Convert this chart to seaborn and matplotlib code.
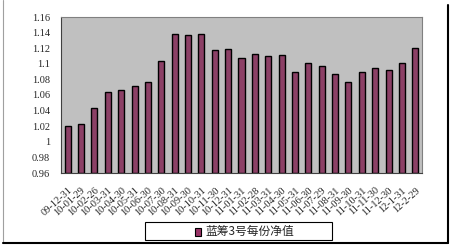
import matplotlib
matplotlib.use("Agg")
import matplotlib.pyplot as plt
from matplotlib.lines import Line2D
from matplotlib.patches import Rectangle
import seaborn as sns
import pandas as pd

dates = ["09-12-31", "10-01-29", "10-02-26", "10-03-31", "10-04-30", "10-05-31",
         "10-06-30", "10-07-30", "10-08-31", "10-09-30", "10-10-31", "10-11-30",
         "10-12-31", "11-01-31", "11-02-28", "11-03-31", "11-04-30", "11-05-31",
         "11-06-30", "11-07-29", "11-08-31", "11-09-30", "11-10-31", "11-11-30",
         "11-12-30", "12-1-31", "12-2-29"]
nav = [1.020, 1.023, 1.043, 1.064, 1.066, 1.072, 1.077, 1.104, 1.138, 1.137,
       1.138, 1.118, 1.119, 1.107, 1.112, 1.110, 1.111, 1.089, 1.101, 1.097,
       1.087, 1.077, 1.090, 1.095, 1.092, 1.101, 1.120]
series_name = "蓝筹3号每份净值"
y_ticks = [0.96, 0.98, 1.00, 1.02, 1.04, 1.06, 1.08, 1.10, 1.12, 1.14, 1.16]
y_tick_labels = ["0.96", "0.98", "1", "1.02", "1.04", "1.06", "1.08", "1.1",
                 "1.12", "1.14", "1.16"]

df = pd.DataFrame({"date": dates, "nav": nav, "series": series_name})

sns.set_theme(style="white")
plt.rcParams["font.family"] = ["Liberation Serif", "Noto Sans CJK SC", "DejaVu Sans"]

fig = plt.figure(figsize=(4.5, 2.45), dpi=100)
ax = fig.add_axes([61 / 450, 1 - 173 / 245, (422 - 61) / 450, (173 - 17) / 245])
ax.set_facecolor("#C0C0C0")

sns.barplot(data=df, x="date", y="nav", hue="series", palette=["#993366"],
            width=0.45, edgecolor="black", linewidth=1.0, ax=ax, legend=False)
for p in ax.patches:
    # bars grow from the bottom of the visible range
    h = p.get_height() + p.get_y() - 0.96
    p.set_y(0.96)
    p.set_height(h)

ax.set_ylim(0.96, 1.16)
ax.set_xlim(-0.5, len(dates) - 0.5)
ax.set_yticks(y_ticks)
ax.set_yticklabels(y_tick_labels, fontsize=7.5)
ax.set_xticks(range(len(dates)))
ax.set_xticklabels(dates, rotation=42, ha="right", rotation_mode="anchor",
                   fontsize=7.5)
ax.set_xlabel("")
ax.set_ylabel("")
ax.tick_params(axis="y", length=3, width=0.6, color="black", pad=8, direction="in")
ax.tick_params(axis="x", length=0, pad=9)

for side in ("top", "right"):
    ax.spines[side].set_color("#808080")
    ax.spines[side].set_linewidth(0.8)
for side in ("left", "bottom"):
    ax.spines[side].set_color("#404040")
    ax.spines[side].set_linewidth(0.8)

# legend box
lx0, ly0, lx1, ly1 = 145 / 450, 1 - 240 / 245, 332 / 450, 1 - 222 / 245
fig.add_artist(Rectangle((lx0, ly0), lx1 - lx0, ly1 - ly0, transform=fig.transFigure,
                         facecolor="white", edgecolor="black", linewidth=0.8))
fig.add_artist(Rectangle((195 / 450, 1 - 236 / 245), 6 / 450, 8 / 245,
                         transform=fig.transFigure, facecolor="#993366",
                         edgecolor="black", linewidth=0.8))
fig.text(205 / 450, (ly0 + ly1) / 2, series_name, fontsize=8.5, va="center", ha="left",
         family=["Noto Sans CJK SC", "DejaVu Sans"])

# outer frame with a shadowed right and bottom edge
fig.add_artist(Line2D([3 / 450, 3 / 450], [0.01, 1.0], transform=fig.transFigure,
                      color="#A0A0A0", linewidth=0.8))
fig.add_artist(Line2D([448 / 450, 448 / 450], [0.01, 0.98], transform=fig.transFigure,
                      color="black", linewidth=1.5))
fig.add_artist(Line2D([3 / 450, 448 / 450], [1 - 243 / 245, 1 - 243 / 245],
                      transform=fig.transFigure, color="black", linewidth=1.5))

fig.savefig("out.png", dpi=100, facecolor="white")
